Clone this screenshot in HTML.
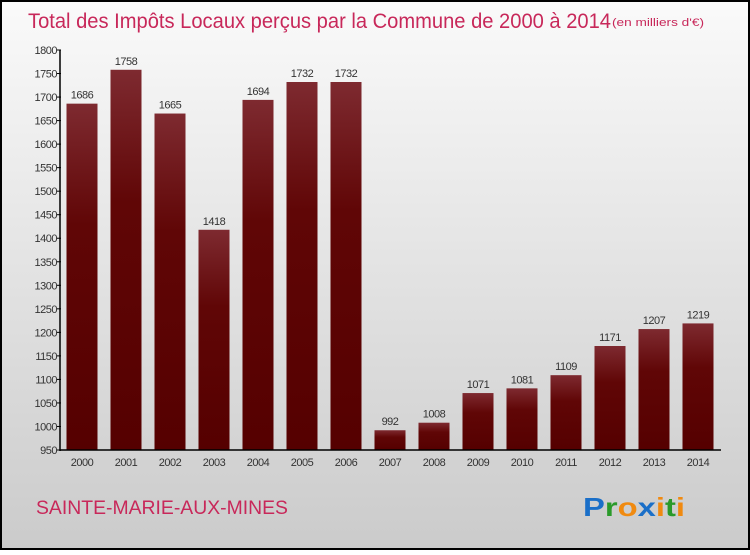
<!DOCTYPE html>
<html><head><meta charset="utf-8"><style>
body{margin:0}
#c{width:750px;height:550px;position:relative;font-family:"Liberation Sans",sans-serif}
</style></head><body>
<div id="c">
<svg id="s" width="750" height="550" xmlns="http://www.w3.org/2000/svg" font-family="Liberation Sans, sans-serif">
<defs>
<linearGradient id="bg" x1="0" y1="0" x2="0" y2="1"><stop offset="0" stop-color="#fafafa"/><stop offset="1" stop-color="#cbcbcb"/></linearGradient>
<linearGradient id="bar" x1="0" y1="0" x2="0" y2="1"><stop offset="0" stop-color="#7e2a30"/><stop offset="0.35" stop-color="#600606"/><stop offset="1" stop-color="#550000"/></linearGradient>
</defs>
<rect x="1" y="1" width="748" height="548" fill="url(#bg)" stroke="#000" stroke-width="2"/>
<text x="28" y="28" font-size="21" fill="#c8285a" textLength="583" lengthAdjust="spacingAndGlyphs">Total des Impôts Locaux perçus par la Commune de 2000 à 2014</text>
<text x="612" y="26" font-size="11" fill="#c8285a" textLength="92" lengthAdjust="spacingAndGlyphs">(en milliers d'€)</text>
<text x="36" y="514" font-size="19" fill="#c8285a" textLength="252" lengthAdjust="spacingAndGlyphs">SAINTE-MARIE-AUX-MINES</text>
<text x="583" y="516" font-size="26" font-weight="bold" textLength="102" lengthAdjust="spacingAndGlyphs"><tspan fill="#1a6fc8">P</tspan><tspan fill="#2a9a2a">r</tspan><tspan fill="#f08a10">o</tspan><tspan fill="#1a6fc8">x</tspan><tspan fill="#f08a10">i</tspan><tspan fill="#2a9a2a">t</tspan><tspan fill="#f08a10">i</tspan></text>
<g id="g"></g>
</svg>
</div>
<script>
const years=["2000","2001","2002","2003","2004","2005","2006","2007","2008","2009","2010","2011","2012","2013","2014"];
const values=[1686,1758,1665,1418,1694,1732,1732,992,1008,1071,1081,1109,1171,1207,1219];
const ticks=[950,1000,1050,1100,1150,1200,1250,1300,1350,1400,1450,1500,1550,1600,1650,1700,1750,1800];
const NS="http://www.w3.org/2000/svg";
const g=document.getElementById('g');
const y=v=>450-(v-950)*400/850;
const x=i=>82+i*44;
function el(t,a,txt){const e=document.createElementNS(NS,t);for(const k in a)e.setAttribute(k,a[k]);if(txt!=null)e.textContent=txt;g.appendChild(e);return e;}
values.forEach((v,i)=>{
 const r=el('rect',{x:x(i)-15.5,y:y(v),width:31,height:450-y(v),fill:'url(#bar)'});
 
 
 const t=el('text',{x:x(i),y:y(v)-5,'font-size':11,'text-anchor':'middle',fill:'#333','letter-spacing':'-0.5'},v);
 
 
 const l=el('text',{x:x(i),y:466,'font-size':11,'text-anchor':'middle',fill:'#333','letter-spacing':'-0.5'},years[i]);
 
 
});
ticks.forEach(v=>{
 const t=el('text',{x:57,y:y(v)+4,'font-size':11,'text-anchor':'end',fill:'#333','letter-spacing':'-0.5'},v);
 
 
 const k=el('line',{x1:57,x2:61,y1:y(v),y2:y(v),stroke:'#000'});
 
 
});
const ya=el('line',{x1:60,x2:60,y1:y(1800),y2:451,stroke:'#000','stroke-width':1.5});


const xa=el('line',{x1:60,x2:721,y1:450,y2:450,stroke:'#000','stroke-width':1.5});


</script>
</body></html>
